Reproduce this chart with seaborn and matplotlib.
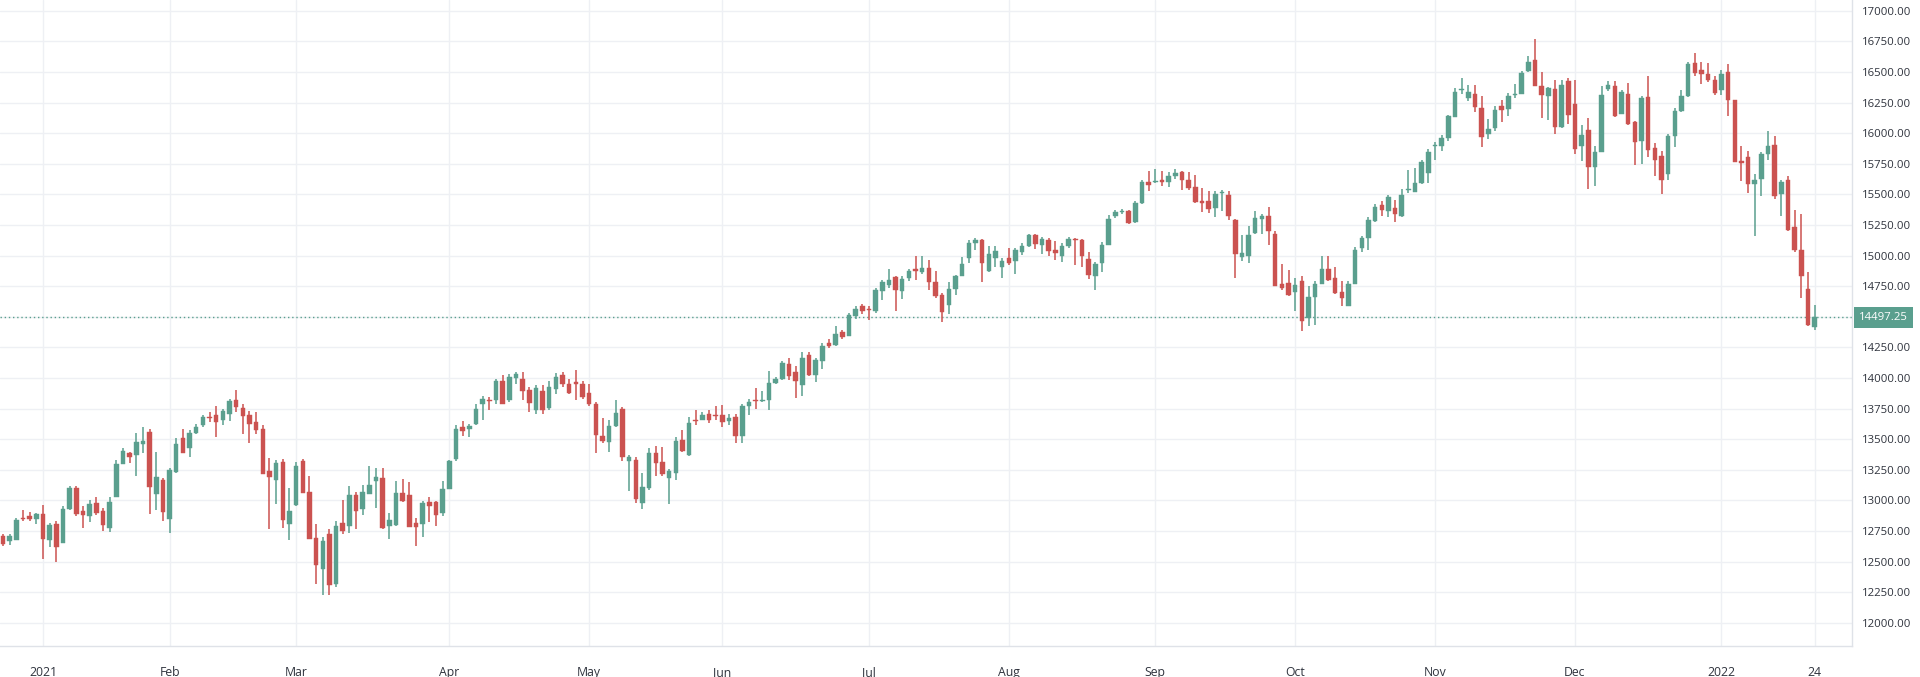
import numpy as np
import pandas as pd
import matplotlib
matplotlib.use("Agg")
import matplotlib.pyplot as plt
import matplotlib.transforms as mtransforms
import seaborn as sns

# ---------------- data ----------------
start_date = "2020-12-23"
end_date = "2022-01-24"
market_holidays = ["2020-12-25", "2021-01-01", "2021-01-18", "2021-02-15", "2021-04-02",
                   "2021-05-31", "2021-07-05", "2021-09-06", "2021-11-25", "2021-12-24",
                   "2022-01-17"]

opens = [
    12706, 12665, 12680, 12855, 12870, 12845,
    12888, 12680, 12805, 12655, 12930, 13100, 12918, 12877, 12978, 12910,
    12774, 13030, 13296, 13391, 13370, 13462, 13562, 13055, 13165, 12850,
    13230, 13507, 13426, 13553, 13615, 13682, 13695, 13655, 13709, 13822,
    13757, 13701, 13642, 13582, 13237, 13170, 13313, 12806, 12960, 13324,
    13068, 12690, 12442, 12725, 12320, 12819, 12792, 13043, 12928, 13054,
    13157, 13180, 12789, 12803, 13062, 13043, 12814, 12806, 12989, 12987,
    12901, 13095, 13337, 13602, 13583, 13621, 13791, 13823, 13818, 13980,
    13818, 13999, 13994, 13899, 13737, 13894, 13756, 13913, 14026, 13953,
    13972, 13948, 13880, 13786, 13529, 13481, 13607, 13750, 13319, 13333,
    12978, 13099, 13387, 13311, 13185, 13225, 13494, 13373, 13661, 13661,
    13709, 13696, 13696, 13648, 13683, 13527, 13769, 13817, 13811, 13817,
    13962, 13994, 14119, 14048, 13940, 14192, 14029, 14138, 14288, 14274,
    14375, 14347, 14505, 14592, 14565, 14546, 14709, 14763, 14822, 14709,
    14817, 14890, 14863, 14898, 14782, 14682, 14593, 14728, 14836, 14979,
    15100, 15127, 14871, 14979, 14906, 14979, 14960, 15033, 15079, 15168,
    15087, 15127, 15046, 14998, 15079, 15133, 15127, 14971, 14836, 14944,
    15087, 15322, 15355, 15365, 15276, 15430, 15606, 15600, 15620, 15606,
    15652, 15680, 15615, 15560, 15444, 15444, 15390, 15515, 15498, 15289,
    14991, 14997, 15186, 15300, 15327, 15179, 14771, 14776, 14700, 14790,
    14490, 14662, 14771, 14890, 14817, 14700, 14591, 14771, 15062, 15143,
    15287, 15415, 15361, 15388, 15325, 15535, 15524, 15592, 15674, 15900,
    15893, 15960, 16135, 16350, 16292, 16317, 16205, 15994, 16043, 16220,
    16198, 16315, 16323, 16505, 16600, 16388, 16301, 16361, 16051, 16424,
    16241, 15893, 16029, 15725, 15844, 16361, 16388, 16160, 16323, 16089,
    15934, 16296, 15880, 15812, 15670, 15980, 16179, 16307, 16573, 16519,
    16486, 16432, 16356, 16497, 16269, 15771, 15806, 15589, 15627, 15833,
    15907, 15507, 15621, 15235, 15045, 14729, 14416,
]

highs = [
    12730, 12730, 12855, 12920, 12905, 12895,
    12965, 12815, 12835, 12955, 13120, 13115, 12955, 13005, 13030, 12937,
    13030, 13331, 13427, 13400, 13554, 13602, 13581, 13400, 13187, 13266,
    13507, 13581, 13575, 13628, 13695, 13722, 13768, 13749, 13830, 13903,
    13790, 13730, 13722, 13615, 13345, 13332, 13337, 13103, 13313, 13337,
    13197, 12806, 12698, 12770, 12830, 13003, 13121, 13068, 13130, 13278,
    13265, 13265, 12895, 13156, 13175, 13149, 12860, 12995, 13030, 12995,
    13157, 13332, 13615, 13651, 13624, 13786, 13850, 13845, 13993, 14026,
    14034, 14053, 14048, 13926, 13940, 13940, 13975, 14039, 14048, 13993,
    14066, 13975, 13948, 13805, 13670, 13656, 13818, 13760, 13373, 13354,
    13225, 13427, 13446, 13435, 13258, 13521, 13575, 13683, 13736, 13723,
    13736, 13769, 13777, 13709, 13709, 13790, 13830, 13919, 13898, 14059,
    14005, 14138, 14160, 14097, 14211, 14211, 14165, 14288, 14320, 14429,
    14396, 14532, 14587, 14609, 14587, 14736, 14803, 14890, 14830, 14830,
    14890, 14998, 14998, 14965, 14871, 14695, 14782, 14844, 14987, 15127,
    15141, 15133, 15079, 15079, 14979, 15060, 15060, 15100, 15181, 15181,
    15149, 15141, 15122, 15100, 15149, 15141, 15133, 15033, 14952, 15114,
    15330, 15376, 15384, 15370, 15446, 15620, 15688, 15707, 15688, 15680,
    15707, 15688, 15680, 15660, 15552, 15525, 15525, 15539, 15525, 15300,
    15173, 15246, 15362, 15343, 15398, 15198, 14934, 14885, 14817, 14836,
    14754, 14790, 14999, 14999, 14907, 14790, 14790, 15075, 15162, 15315,
    15423, 15450, 15497, 15456, 15543, 15701, 15714, 15782, 15869, 15925,
    15986, 16150, 16373, 16455, 16395, 16398, 16306, 16120, 16225, 16274,
    16328, 16405, 16505, 16628, 16769, 16497, 16377, 16437, 16437, 16451,
    16437, 16070, 16124, 15893, 16388, 16424, 16424, 16356, 16410, 16097,
    16307, 16464, 15920, 15852, 15997, 16206, 16356, 16579, 16660, 16579,
    16573, 16464, 16513, 16568, 16274, 15899, 15852, 15670, 15844, 16016,
    15980, 15621, 15648, 15376, 15344, 14865, 14593,
]

lows = [
    12630, 12640, 12675, 12830, 12830, 12810,
    12525, 12620, 12495, 12655, 12925, 12877, 12775, 12828, 12882, 12750,
    12740, 13027, 13296, 13305, 13197, 13386, 12893, 12920, 12834, 12736,
    13228, 13386, 13352, 13547, 13601, 13642, 13520, 13615, 13650, 13722,
    13547, 13472, 13542, 13216, 12766, 12968, 12779, 12679, 12958, 13057,
    12683, 12321, 12227, 12230, 12290, 12725, 12738, 12765, 12879, 13049,
    12941, 12768, 12689, 12795, 12985, 12785, 12625, 12698, 12824, 12792,
    12873, 13093, 13319, 13527, 13521, 13616, 13656, 13737, 13786, 13786,
    13805, 13953, 13818, 13723, 13705, 13710, 13742, 13867, 13931, 13867,
    13818, 13832, 13769, 13386, 13467, 13400, 13597, 13320, 13077, 12983,
    12929, 13085, 13198, 13198, 12970, 13171, 13400, 13360, 13615, 13656,
    13629, 13656, 13597, 13615, 13467, 13473, 13696, 13750, 13804, 13736,
    13955, 13988, 13985, 13839, 13852, 14016, 13967, 14075, 14247, 14266,
    14320, 14342, 14483, 14524, 14478, 14532, 14636, 14736, 14547, 14647,
    14790, 14798, 14852, 14722, 14655, 14458, 14520, 14682, 14830, 14944,
    15046, 14782, 14863, 14911, 14817, 14925, 14852, 15006, 15073, 15052,
    15014, 14998, 14965, 14952, 15060, 14925, 14906, 14809, 14717, 14863,
    15085, 15311, 15338, 15262, 15268, 15420, 15525, 15593, 15566, 15560,
    15625, 15539, 15539, 15430, 15354, 15349, 15316, 15362, 15289, 14820,
    14956, 14942, 15181, 15181, 15091, 14752, 14716, 14673, 14545, 14382,
    14422, 14436, 14765, 14790, 14689, 14591, 14589, 14768, 15034, 15048,
    15279, 15325, 15315, 15279, 15315, 15510, 15520, 15585, 15597, 15782,
    15859, 15941, 16130, 16320, 16267, 16173, 15890, 15955, 16016, 16089,
    16143, 16288, 16320, 16497, 16383, 16124, 16105, 15997, 16043, 16078,
    15833, 15771, 15545, 15567, 15844, 16342, 16133, 16155, 16070, 15744,
    15752, 15806, 15654, 15507, 15616, 15888, 16170, 16300, 16464, 16405,
    16415, 16315, 16315, 16143, 15763, 15607, 15512, 15159, 15485, 15784,
    15463, 15322, 15200, 15028, 14656, 14424, 14392,
]

closes = [
    12646, 12710, 12840, 12845, 12845, 12890,
    12687, 12800, 12620, 12930, 13105, 12888, 12883, 12972, 12896, 12800,
    12990, 13296, 13404, 13355, 13478, 13489, 13108, 13191, 12909, 13248,
    13458, 13391, 13550, 13601, 13682, 13674, 13642, 13730, 13809, 13763,
    13690, 13628, 13574, 13218, 13191, 13305, 12841, 12914, 13283, 13062,
    12685, 12469, 12671, 12310, 12790, 12751, 13043, 12914, 13068, 13130,
    13190, 12775, 12843, 13062, 12997, 12787, 12780, 12976, 12955, 12879,
    13095, 13319, 13583, 13567, 13607, 13750, 13832, 13813, 13975, 13791,
    14012, 14034, 13891, 13796, 13918, 13742, 13926, 14012, 13953, 13880,
    13948, 13845, 13786, 13535, 13489, 13607, 13712, 13354, 13354, 13010,
    13112, 13387, 13306, 13220, 13239, 13489, 13408, 13637, 13650, 13696,
    13661, 13688, 13642, 13675, 13527, 13769, 13804, 13809, 13813, 13957,
    13992, 14124, 14016, 13975, 14165, 14029, 14146, 14266, 14260, 14364,
    14337, 14519, 14565, 14546, 14554, 14723, 14782, 14803, 14717, 14811,
    14871, 14871, 14898, 14782, 14668, 14539, 14728, 14836, 14933, 15106,
    15127, 14944, 15014, 15041, 14960, 14944, 15046, 15079, 15168, 15095,
    15133, 15041, 15019, 15079, 15133, 15130, 14998, 14844, 14933, 15087,
    15303, 15357, 15357, 15268, 15430, 15600, 15579, 15606, 15606, 15652,
    15674, 15620, 15552, 15436, 15430, 15381, 15506, 15519, 15327, 15010,
    15024, 15173, 15308, 15327, 15205, 14754, 14735, 14681, 14762, 14463,
    14662, 14771, 14890, 14803, 14694, 14654, 14771, 15043, 15143, 15293,
    15396, 15374, 15483, 15342, 15497, 15540, 15592, 15769, 15850, 15905,
    15960, 16138, 16336, 16353, 16336, 16216, 15972, 16032, 16192, 16187,
    16307, 16318, 16492, 16579, 16383, 16315, 16369, 16051, 16396, 16152,
    15871, 15988, 15725, 15844, 16315, 16396, 16143, 16334, 16078, 15926,
    16288, 15866, 15779, 15621, 15980, 16179, 16301, 16568, 16492, 16486,
    16432, 16328, 16486, 16274, 15763, 15757, 15589, 15616, 15833, 15893,
    15491, 15600, 15208, 15045, 14838, 14430, 14497.25,
]

price_ticks = list(range(12000, 17001, 250))
last_price = 14497.25
last_price_label = "14497.25"

# ---------------- styling ----------------
UP = "#5a9f8e"
DOWN = "#cb5250"
GRID = "#eef0f4"
TEXT = "#2f333d"

sns.set_theme(style="white")
plt.rcParams["font.family"] = ["Open Sans", "DejaVu Sans"]

dates = pd.bdate_range(start_date, end_date, freq="C", holidays=market_holidays)
n = min(len(dates), len(opens), len(highs), len(lows), len(closes))
df = pd.DataFrame({
    "date": dates[:n],
    "open": opens[:n], "high": highs[:n], "low": lows[:n], "close": closes[:n],
})
df["pos"] = np.arange(n)
df["up"] = df["close"] >= df["open"]
colors = np.where(df["up"], UP, DOWN)

W, H = 1920, 677
plot_right, plot_bottom = 1852, 646
fig = plt.figure(figsize=(W / 100, H / 100), dpi=100)
fig.patch.set_facecolor("white")
ax = fig.add_axes([0, 1 - plot_bottom / H, plot_right / W, plot_bottom / H])
ax.set_facecolor("white")

# month ticks
month_first = df.groupby([df["date"].dt.year, df["date"].dt.month])["pos"].min().reset_index(drop=True)
tick_pos, tick_lab = [], []
for p in month_first:
    d = df.loc[p, "date"]
    if d < pd.Timestamp("2021-01-01"):
        continue
    tick_pos.append(p)
    tick_lab.append(str(d.year) if d.month == 1 else d.strftime("%b"))
tick_pos.append(int(df["pos"].iloc[-1]))
tick_lab.append(str(df["date"].iloc[-1].day))

for p in tick_pos:
    ax.axvline(p, color=GRID, lw=1, zorder=0)
for t in price_ticks:
    ax.axhline(t, color=GRID, lw=1, zorder=0)

# candles
ax.vlines(df["pos"], df["low"], df["high"], colors=colors, lw=1.1, zorder=2)
body_bottom = np.minimum(df["open"], df["close"])
body_height = np.maximum(np.abs(df["close"] - df["open"]), 8)
ax.bar(df["pos"], body_height, bottom=body_bottom, width=0.68, color=colors,
       edgecolor=colors, linewidth=0.3, zorder=3)

# last price line
ax.axhline(last_price, color=UP, lw=1, linestyle=(0, (1, 2)), zorder=1)

ax.set_xlim(-0.46, 277.6)
ax.set_ylim(11811, 17089)

ax.set_xticks(tick_pos)
ax.set_xticklabels(tick_lab)
ax.set_yticks(price_ticks)
ax.set_yticklabels(["" if t == 14500 else f"{t:.2f}" for t in price_ticks])
ax.yaxis.tick_right()
ax.tick_params(axis="y", length=0, pad=7.5, labelsize=8.2, labelcolor=TEXT)
ax.tick_params(axis="x", length=0, pad=14.5, labelsize=8.8, labelcolor=TEXT)
ax.grid(False)

sns.despine(ax=ax, left=True, top=True, right=False, bottom=False)
for s in ("right", "bottom"):
    ax.spines[s].set_color("#dfe2e8")
    ax.spines[s].set_linewidth(1)

# price label on axis
trans = mtransforms.blended_transform_factory(ax.transAxes, ax.transData)
ax.text(1.0 + 7 / plot_right, last_price, last_price_label, transform=trans,
        ha="left", va="center", fontsize=8.2, color="white", clip_on=False,
        bbox=dict(boxstyle="square,pad=0.45", fc=UP, ec="none"), zorder=5)

fig.savefig("out.png", dpi=100, facecolor="white")
